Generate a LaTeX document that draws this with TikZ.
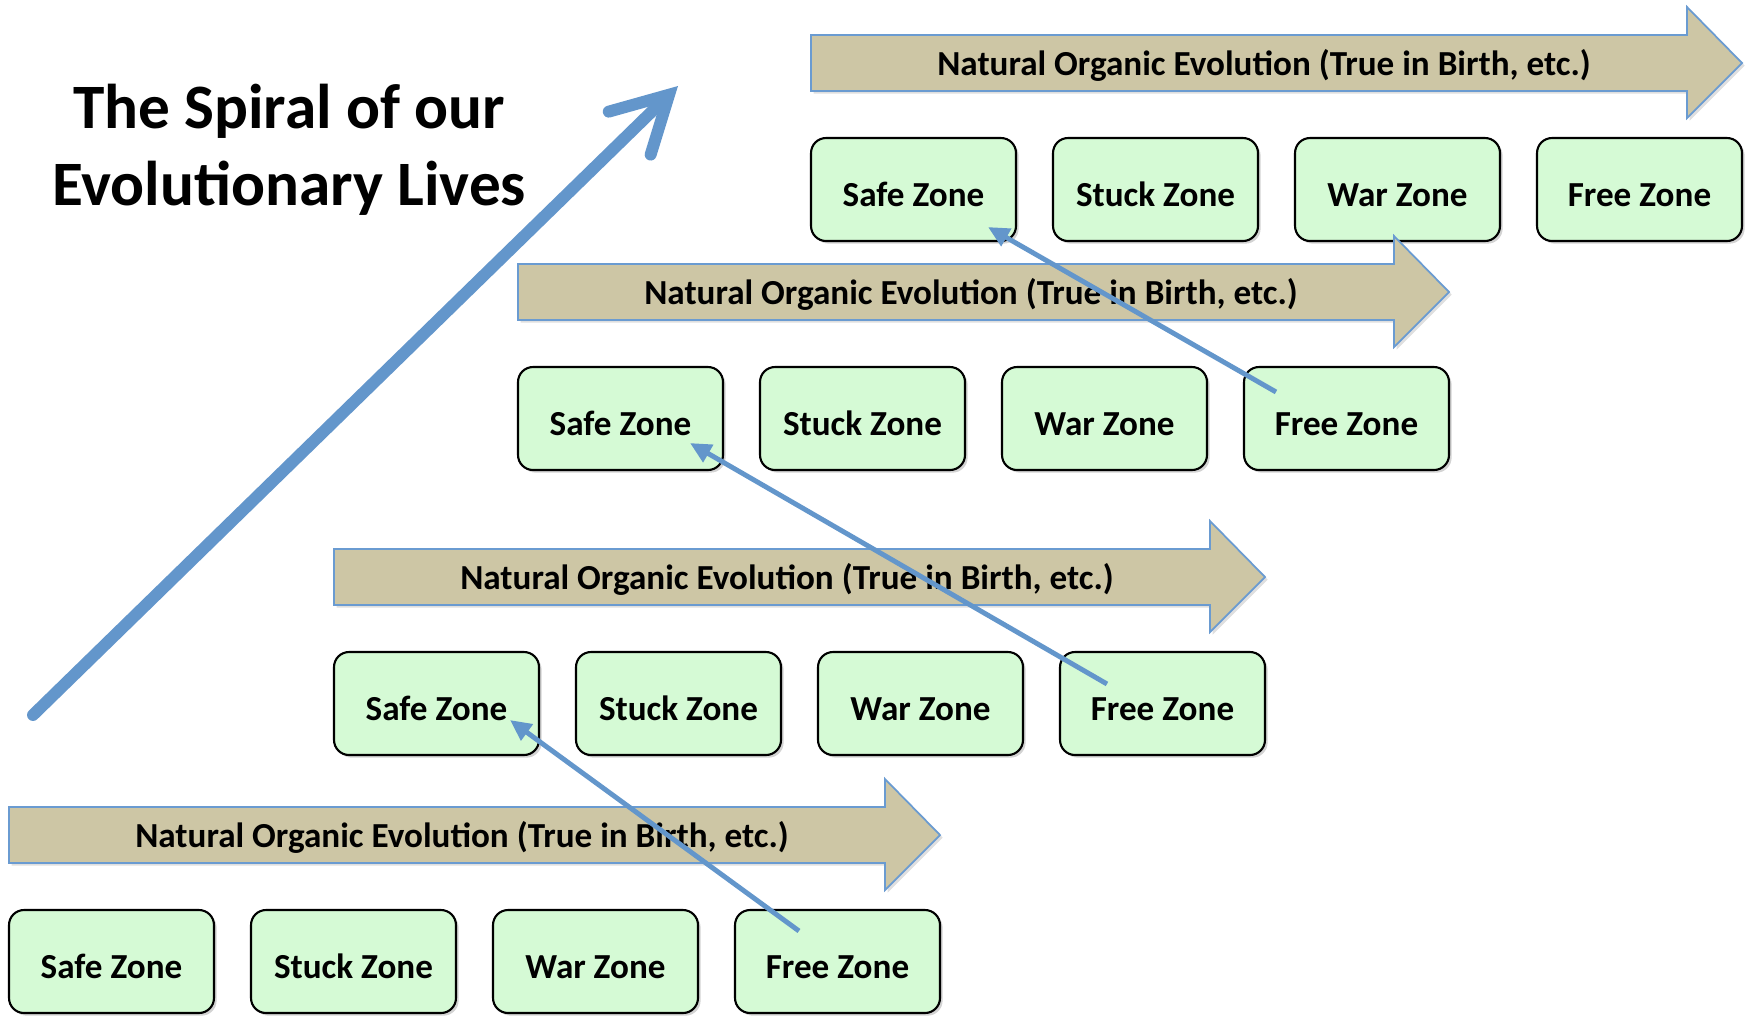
\documentclass[tikz,border=0pt]{standalone}
\usepackage{fontspec}
\setmainfont{Carlito}
\usetikzlibrary{arrows.meta,calc,shadows}

\definecolor{zonegreen}{HTML}{D5FAD5}
\definecolor{bandtan}{HTML}{CDC6A5}
\definecolor{bandblue}{HTML}{6A9BD1}
\definecolor{linkblue}{HTML}{6396CB}

\tikzset{
  zone/.style={draw=black, line width=1.2pt, fill=zonegreen, rounded corners=0.3cm,
    minimum width=4.1cm, minimum height=2.06cm, font=\fontsize{20}{24}\selectfont\bfseries,
    text height=19pt, text depth=0pt,
    drop shadow={shadow xshift=1.5pt, shadow yshift=-1.5pt, opacity=0.35}},
  band/.style={draw=bandblue, line width=1pt, fill=bandtan,
    drop shadow={shadow xshift=1.5pt, shadow yshift=-1.5pt, opacity=0.25}},
  bandtext/.style={font=\fontsize{20}{24}\selectfont\bfseries, text height=15pt, text depth=1.2pt},
  link/.style={draw=linkblue, line width=2.8pt, -{Triangle[length=12pt,width=11pt]}},
  spiral/.style={draw=linkblue, line width=6.8pt, line cap=round,
    -{Straight Barb[length=1.1cm,width=1.2cm,line cap=round]}},
  title/.style={align=center, font=\fontsize{36}{44}\selectfont\bfseries}
}

\begin{document}
\begin{tikzpicture}[x=0.02cm,y=-0.02cm]
\useasboundingbox (0,0) rectangle (1750,1015);

\node[title] (title) at (289,150) {The Spiral of our\\Evolutionary Lives};

% rows, from top to bottom
\foreach \r/\x/\y in {4/811/138, 3/518/367, 2/334/652, 1/9/910} {
\draw[band] (\x,\y-103) -- (\x+876,\y-103) -- (\x+876,\y-131) -- (\x+931,\y-75)
  -- (\x+876,\y-20) -- (\x+876,\y-47) -- (\x,\y-47) -- cycle;
\node[bandtext] (band\r) at (\x+453,\y-75) {Natural Organic Evolution (True in Birth, etc.)};
\node[zone] (safe\r) at (\x+102.5,\y+51.5) {Safe Zone};
\node[zone] (stuck\r) at (\x+344.5,\y+51.5) {Stuck Zone};
\node[zone] (war\r) at (\x+586.5,\y+51.5) {War Zone};
\node[zone] (free\r) at (\x+828.5,\y+51.5) {Free Zone};
}

% free zone leads to the next safe zone
\draw[link] ($(free1.north west)+(65,22)$) -- ($(safe2.south east)+(-30,-36)$);
\draw[link] ($(free2.north west)+(48,33)$) -- ($(safe3.south east)+(-34,-28)$);
\draw[link] ($(free3.north west)+(33,26)$) -- ($(safe4.south east)+(-29,-15)$);

\coordinate (spiraltail) at (33,715);
\coordinate (spiralhead) at (678,86);
\draw[spiral] (spiraltail) -- (spiralhead);
\end{tikzpicture}
\end{document}
